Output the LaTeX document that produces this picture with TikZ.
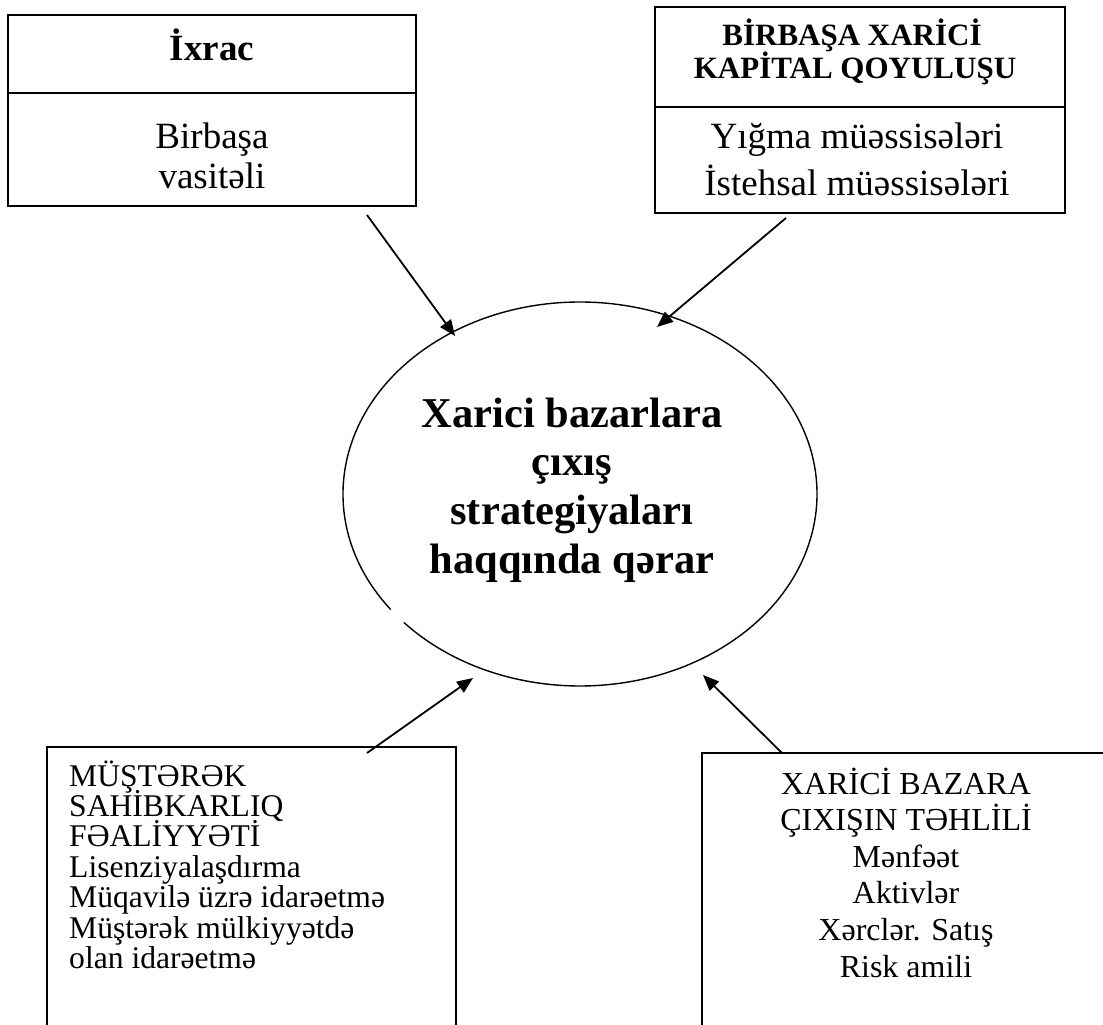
\documentclass[tikz,border=0pt]{standalone}
\usepackage{fontspec}
\setmainfont{Liberation Serif}
\usetikzlibrary{shapes.geometric,arrows.meta}
\begin{document}
\begin{tikzpicture}[x=1pt,y=-1pt,
  boxline/.style={line width=1.6pt},
  arr/.style={line width=1.8pt,-{Triangle[length=16pt,width=13pt]}},
  bigbold/.style={anchor=base,inner sep=0pt,font=\bfseries\fontsize{37}{40}\selectfont},
  midbold/.style={anchor=base,inner sep=0pt,font=\bfseries\fontsize{31}{34}\selectfont},
  bigreg/.style={anchor=base,inner sep=0pt,font=\fontsize{37}{40}\selectfont},
  ellbold/.style={anchor=base,inner sep=0pt,font=\bfseries\fontsize{42.5}{49}\selectfont},
  leftreg/.style={anchor=base west,inner sep=0pt,font=\fontsize{31.6}{31}\selectfont},
  cenreg/.style={anchor=base,inner sep=0pt,font=\fontsize{32}{36}\selectfont}]
\clip (0,0) rectangle (1103,1025);
\fill[white] (0,0) rectangle (1103,1025);

% top-left box
\node[draw,boxline,rectangle,minimum width=408,minimum height=191,inner sep=0pt] (bx1) at (212,110.5) {};
\draw[boxline] (8,93) -- (416,93);
\node[bigbold] (bx1t) at (212,60) {İxrac};
\node[bigreg] (bx1a) at (212,148) {Birbaşa};
\node[bigreg] (bx1b) at (212,188) {vasitəli};

% top-right box
\node[draw,boxline,rectangle,minimum width=410,minimum height=206,inner sep=0pt] (bx2) at (860,110) {};
\draw[boxline] (655,107) -- (1065,107);
\node[midbold] (bx2t1) at (852,46) {BİRBAŞA XARİCİ};
\node[midbold] (bx2t2) at (855,78) {KAPİTAL QOYULUŞU};
\node[bigreg] (bx2a) at (857,148) {Yığma müəssisələri};
\node[bigreg] (bx2b) at (857,195) {İstehsal müəssisələri};

% ellipse
\node[ellipse,minimum width=474,minimum height=384,inner sep=0pt] (ell) at (580,494) {};
\draw[line width=1.4pt] (ell.center) ++(143:237 and 192)
  arc[start angle=143,end angle=498,x radius=237,y radius=192];
\node[ellbold] (e1) at (572,427) {Xarici bazarlara};
\node[ellbold] (e2) at (572,475.7) {çıxış};
\node[ellbold] (e3) at (572,524.4) {strategiyaları};
\node[ellbold] (e4) at (572,573) {haqqında qərar};

% bottom-left box (open below the picture's edge)
\node[draw,boxline,rectangle,minimum width=409,minimum height=293,inner sep=0pt] (bx3) at (251.5,893.5) {};
\node[leftreg] (l1) at (69,786) {MÜŞTƏRƏK};
\node[leftreg] (l2) at (69,816.4) {SAHİBKARLIQ};
\node[leftreg] (l3) at (69,846.8) {FƏALİYYƏTİ};
\node[leftreg] (l4) at (69,877.2) {Lisenziyalaşdırma};
\node[leftreg] (l5) at (69,907.6) {Müqavilə üzrə idarəetmə};
\node[leftreg] (l6) at (69,938) {Müştərək mülkiyyətdə};
\node[leftreg] (l7) at (69,968.4) {olan idarəetmə};

% bottom-right box (runs past right and bottom edges)
\node[draw,boxline,rectangle,minimum width=413,minimum height=287,inner sep=0pt] (bx4) at (908.5,896.5) {};
\node[cenreg] (r1) at (906,794) {XARİCİ BAZARA};
\node[cenreg] (r2) at (906,830.6) {ÇIXIŞIN TƏHLİLİ};
\node[cenreg] (r3) at (906,867.2) {Mənfəət};
\node[cenreg] (r4) at (906,903.8) {Aktivlər};
\node[cenreg] (r5) at (906,940.4) {Xərclər. Satış};
\node[cenreg] (r6) at (906,977) {Risk amili};

% arrow end points
\coordinate (a1s) at (367,215);
\coordinate (a1e) at (455,336);
\coordinate (a2s) at (786,218);
\coordinate (a2e) at (657,327);
\coordinate (a3s) at (367,753);
\coordinate (a3e) at (473,678);
\coordinate (a4s) at (782,753);
\coordinate (a4e) at (703,675);

\draw[arr] (a1s) -- (a1e);
\draw[arr] (a2s) -- (a2e);
\draw[arr] (a3s) -- (a3e);
\draw[arr] (a4s) -- (a4e);
\end{tikzpicture}
\end{document}
